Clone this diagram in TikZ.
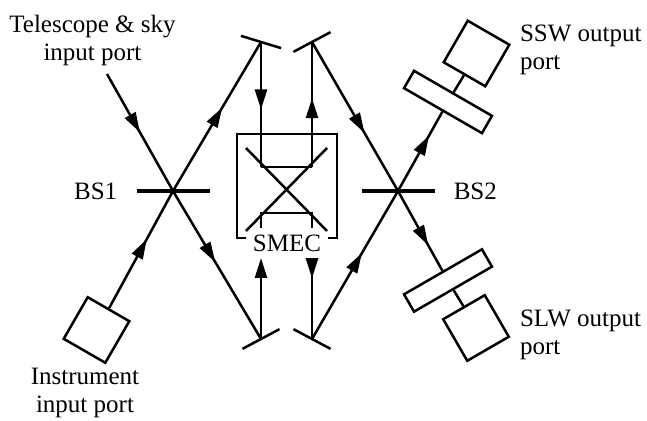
\documentclass[tikz,border=0pt]{standalone}
\usepackage{fontspec}
\setmainfont{Liberation Serif}
\usepackage{tikz}
\usetikzlibrary{arrows.meta,positioning,decorations.markings}
\tikzset{
  lbl/.style = {inner sep=0pt, outer sep=0pt,
    font=\fontsize{12.5}{14}\selectfont},
  splitter/.style = {rectangle, fill=black, inner sep=0pt,
    minimum width=36.5pt, minimum height=2pt},% beam splitter
  port/.style = {rectangle, draw=black, inner sep=0pt,
    minimum size=24pt},% input / detector box
  filt/.style = {rectangle, draw=black, inner sep=0pt,
    minimum width=45pt, minimum height=10pt},% band filter
  beam/.style = {postaction={decorate}, decoration={markings,
    mark=at position #1 with {\arrow{>}}}}
}

\begin{document}
\begin{tikzpicture}[x=0.5pt,y=0.5pt,line width=1.25pt,>={Triangle[length=10pt,width=6pt]}]
    \useasboundingbox (0,0) rectangle (647,421);
    % beam splitters and mirrors
    \node [splitter] (bs1) at (173,230) {};
    \node [splitter] (bs2) at (398,230) {};
    \node [lbl, left=9pt of bs1] {BS1};
    \node [lbl, right=9pt of bs2] {BS2};
    \coordinate (tl) at (261,379);
    \coordinate (tr) at (312,379);
    \coordinate (bl) at (261,82);
    \coordinate (br) at (312,82);
    \draw ([shift={(163:21)}]tl) -- ([shift={(-17:21)}]tl);
    \draw ([shift={(208:21)}]tr) -- ([shift={(28:21)}]tr);
    \draw ([shift={(208:21)}]bl) -- ([shift={(28:21)}]bl);
    \draw ([shift={(152:21)}]br) -- ([shift={(-28:21)}]br);
    % SMEC
    \node [lbl] (smec) at (287,178) {SMEC};
    \draw (246,183) -| (237,287) -| (337,183) -- (328,183);
    \draw (246,273) -- (327,190);
    \draw (327,273) -- (246,190);
    \coordinate (ra) at (261,254);
    \coordinate (rb) at (312,254);
    \coordinate (rc) at (261,208);
    \coordinate (rd) at (312,208);
    \coordinate (sa) at (261,163);
    \coordinate (sb) at (312,163);
    \draw (261,193) -- (rc) -- (rd) -- (312,193);
    % ports
    \node [port, rotate=-30] (inst) at (96.5,91) {};
    \node [filt, rotate=-30] (sswf) at (448,319) {};
    \node [port, rotate=-30] (sswd) at (476.5,367.5) {};
    \node [filt, rotate=30] (slwf) at (448,140.5) {};
    \node [port, rotate=30] (slwd) at (476,93) {};
    \node [lbl, align=center, anchor=north] at (92.5,406) {Telescope \& sky\\input port};
    \node [lbl, align=center, anchor=north] at (85,53) {Instrument\\input port};
    \node [lbl, align=left, anchor=north west] at (520,396) {SSW output\\port};
    \node [lbl, align=left, anchor=north west] at (520,111) {SLW output\\port};
    % beams
    \coordinate (tel) at (107,347);
    \draw [beam=0.5] (tel) -- (bs1.center);
    \draw [beam=0.48] (bs1.center) -- (bl);
    \draw [beam=0.59] (inst.north) -- (bs1.center);
    \draw [beam=0.56] (bs1.center) -- (tl);
    \draw [beam=0.54] (tl) -- (ra);
    \draw (ra) -- (rb);
    \draw [beam=0.55] (rb) -- (tr);
    \draw [beam=0.61] (tr) -- (bs2.center);
    \draw [beam=0.7] (bs2.center) -- (sswf.south);
    \draw (sswf.north) -- (sswd.south);
    \draw [beam=0.58] (br) -- (bs2.center);
    \draw [beam=0.68] (bs2.center) -- (slwf.north);
    \draw (slwf.south) -- (slwd.north);
    \draw [->] (bl) -- (sa);
    \draw [beam=0.25] (sb) -- (br);
\end{tikzpicture}
\end{document}
